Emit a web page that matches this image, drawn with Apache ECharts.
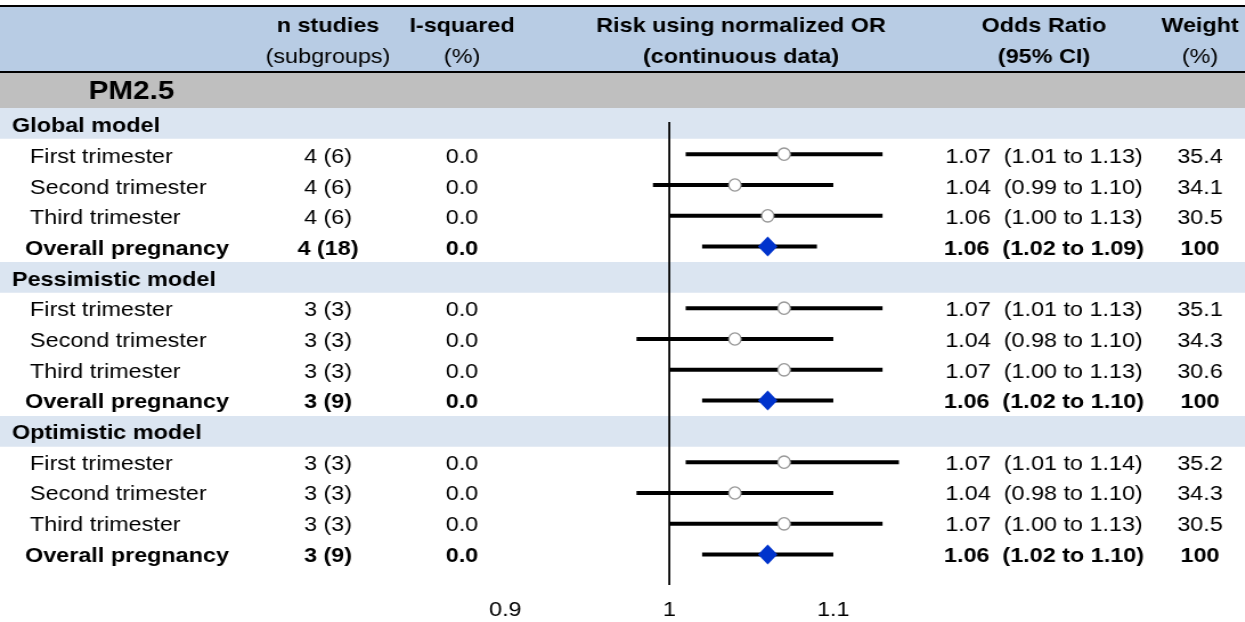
<!DOCTYPE html>
<html><head><meta charset="utf-8">
<script src="https://cdn.jsdelivr.net/npm/echarts@6/dist/echarts.min.js"></script>
<style>
html,body{margin:0;padding:0;overflow:hidden;background:#fff}
#c{height:622px;transform-origin:0 0}
</style>
</head><body><div id="c"></div>
<script>
// ---------- data ----------
const rowLabels = ['Global model','First trimester','Second trimester','Third trimester','Overall pregnancy',
  'Pessimistic model','First trimester','Second trimester','Third trimester','Overall pregnancy',
  'Optimistic model','First trimester','Second trimester','Third trimester','Overall pregnancy'];
const rowKinds = ['section','sub','sub','sub','overall','section','sub','sub','sub','overall','section','sub','sub','sub','overall'];
const nStudies = ['','4 (6)','4 (6)','4 (6)','4 (18)','','3 (3)','3 (3)','3 (3)','3 (9)','','3 (3)','3 (3)','3 (3)','3 (9)'];
const iSquared = ['','0.0','0.0','0.0','0.0','','0.0','0.0','0.0','0.0','','0.0','0.0','0.0','0.0'];
const oddsRatio = [null,1.07,1.04,1.06,1.06,null,1.07,1.04,1.07,1.06,null,1.07,1.04,1.07,1.06];
const ciLower   = [null,1.01,0.99,1.00,1.02,null,1.01,0.98,1.00,1.02,null,1.01,0.98,1.00,1.02];
const ciUpper   = [null,1.13,1.10,1.13,1.09,null,1.13,1.10,1.13,1.10,null,1.14,1.10,1.13,1.10];
const weights = ['','35.4','34.1','30.5','100','','35.1','34.3','30.6','100','','35.2','34.3','30.5','100'];
const tickLabels = ['0.9','1','1.1'];
const headerLine1 = ['n studies','I-squared','Risk using normalized OR','Odds Ratio','Weight'];
const headerLine2 = ['(subgroups)','(%)','(continuous data)','(95% CI)','(%)'];
const groupTitle = 'PM2.5';
const nullEffect = 1;

// ---------- layout ----------
const S = 1.14;                 // page text is horizontally stretched, as in the reference
const X = v => v / S;
const W = 1245 / S;
const FS = 20.5;
const FONT = '"Liberation Sans", Arial, Helvetica, sans-serif';
const rowKeys = rowLabels.map((l, i) => 'r' + i);
const headerCenters = [328, 462, 741, 1044, 1200];

const el = document.getElementById('c');
el.style.width = W + 'px';
el.style.transform = 'scaleX(' + S + ')';

const bandGrid = { left: 0, right: 0, top: 108, bottom: 52 };
const forestLeft = X(669.3) - 0.1 * X(1640);
const forestWidth = 0.25 * X(1640);
const textTop = 111.5, textBottom = 50.7;

const grids = [
  bandGrid,
  { left: forestLeft, width: forestWidth, top: 108, bottom: 52 },
  { left: forestLeft, width: forestWidth, top: 122, bottom: 37 },
  { left: X(12), width: 1, top: textTop, bottom: textBottom },
  { left: X(328), width: 1, top: textTop, bottom: textBottom },
  { left: X(462), width: 1, top: textTop, bottom: textBottom },
  { left: X(1044), width: 1, top: textTop, bottom: textBottom },
  { left: X(1200), width: 1, top: textTop, bottom: textBottom }
];

const baseFont = { fontFamily: FONT, fontSize: FS, color: '#000' };
const rich = {
  n: Object.assign({}, baseFont),
  b: Object.assign({ fontWeight: 'bold' }, baseFont),
  h: Object.assign({ fontWeight: 'bold' }, baseFont),
  s: Object.assign({ padding: [0, 0, 0, X(18)] }, baseFont),
  o: Object.assign({ fontWeight: 'bold', padding: [0, 0, 0, X(13)] }, baseFont)
};

function textColumn(gridIndex, values, align, styler) {
  return {
    type: 'category', gridIndex, inverse: true, data: rowKeys, z: 10,
    axisLine: { show: false }, axisTick: { show: false }, splitLine: { show: false },
    axisLabel: {
      show: true, interval: 0, margin: 0, align, verticalAlign: 'middle',
      fontFamily: FONT, fontSize: FS, color: '#000', rich,
      formatter: (v, i) => values[i] === '' ? '' : '{' + styler(i) + '|' + values[i] + '}'
    }
  };
}
const boldIfOverall = i => rowKinds[i] === 'overall' ? 'b' : 'n';

const orText = oddsRatio.map((v, i) => v == null ? '' :
  v.toFixed(2) + '  (' + ciLower[i].toFixed(2) + ' to ' + ciUpper[i].toFixed(2) + ')');

const hiddenX = gi => ({ type: 'value', gridIndex: gi, min: 0, max: 1, show: false });

const xAxis = [
  hiddenX(0),
  { type: 'value', gridIndex: 1, min: 0.9, max: 1.15, show: false },
  { type: 'value', gridIndex: 2, min: 0.9, max: 1.15, interval: 0.1,
    axisLine: { show: false }, axisTick: { show: false }, splitLine: { show: false },
    axisLabel: { margin: 15, fontFamily: FONT, fontSize: FS, color: '#000', showMaxLabel: false,
      formatter: (v) => { const k = Math.round((v - 0.9) / 0.1); return tickLabels[k] || ''; } } },
  hiddenX(3), hiddenX(4), hiddenX(5), hiddenX(6), hiddenX(7)
];

const yAxis = [
  { type: 'category', gridIndex: 0, inverse: true, data: rowKeys, show: false },
  { type: 'category', gridIndex: 1, inverse: true, data: rowKeys, show: false },
  { type: 'value', gridIndex: 2, min: 0, max: 1, show: false },
  textColumn(3, rowLabels, 'left', i => rowKinds[i] === 'section' ? 'h' : (rowKinds[i] === 'overall' ? 'o' : 's')),
  textColumn(4, nStudies, 'center', boldIfOverall),
  textColumn(5, iSquared, 'center', boldIfOverall),
  textColumn(6, orText, 'center', boldIfOverall),
  textColumn(7, weights, 'center', boldIfOverall)
];

const ciData = [], subData = [], overallData = [];
oddsRatio.forEach((v, i) => {
  if (v == null) return;
  ciData.push([i, ciLower[i], ciUpper[i]]);
  if (rowKinds[i] === 'overall') overallData.push([v, i]); else subData.push([v, i]);
});

const series = [
  { type: 'bar', xAxisIndex: 0, yAxisIndex: 0, z: 1, silent: true, barWidth: '100%',
    itemStyle: { color: '#dbe5f1' }, animation: false,
    data: rowKinds.map(k => k === 'section' ? 1 : '-') },
  { type: 'line', xAxisIndex: 2, yAxisIndex: 2, z: 3, symbol: 'none', silent: true, animation: false,
    lineStyle: { color: '#000', width: X(2) }, data: [[nullEffect, 0], [nullEffect, 1]] },
  { type: 'custom', xAxisIndex: 1, yAxisIndex: 1, z: 4, silent: true, animation: false,
    encode: { x: [1, 2], y: 0 }, data: ciData,
    renderItem: (params, api) => {
      const y = api.value(0);
      const p1 = api.coord([api.value(1), y]);
      const p2 = api.coord([api.value(2), y]);
      return { type: 'line', shape: { x1: p1[0], y1: p1[1], x2: p2[0], y2: p2[1] },
        style: { stroke: '#000', lineWidth: 4 } };
    } },
  { type: 'scatter', xAxisIndex: 1, yAxisIndex: 1, z: 5, silent: true, animation: false,
    symbol: 'circle', symbolSize: [X(12.3), 12.3],
    itemStyle: { color: '#fff', borderColor: '#999999', borderWidth: 1.3, opacity: 1 },
    data: subData },
  { type: 'scatter', xAxisIndex: 1, yAxisIndex: 1, z: 5, silent: true, animation: false,
    symbol: 'diamond', symbolSize: [X(19.5), 20],
    itemStyle: { color: '#0033cc', opacity: 1 }, data: overallData }
];

const graphic = [
  { type: 'rect', z: 0, shape: { x: 0, y: 5, width: W, height: 2 }, style: { fill: '#000' } },
  { type: 'rect', z: 0, shape: { x: 0, y: 7, width: W, height: 64 }, style: { fill: '#b8cce4' } },
  { type: 'rect', z: 0, shape: { x: 0, y: 71, width: W, height: 2 }, style: { fill: '#000' } },
  { type: 'rect', z: 0, shape: { x: 0, y: 73, width: W, height: 35 }, style: { fill: '#bfbfbf' } },
  { type: 'text', z: 10, x: X(131.5), y: 91.5,
    style: { text: groupTitle, fill: '#000', font: 'bold 26px ' + FONT, align: 'center', verticalAlign: 'middle' } }
];
headerCenters.forEach((cx, k) => {
  graphic.push({ type: 'text', z: 10, x: X(cx), y: 26,
    style: { text: headerLine1[k], fill: '#000', font: 'bold ' + FS + 'px ' + FONT, align: 'center', verticalAlign: 'middle' } });
  graphic.push({ type: 'text', z: 10, x: X(cx), y: 57.5,
    style: { text: headerLine2[k], fill: '#000', font: (k >= 2 && k <= 3 ? 'bold ' : '') + FS + 'px ' + FONT, align: 'center', verticalAlign: 'middle' } });
});

const chart = echarts.init(el, null, { renderer: 'canvas' });
chart.setOption({
  animation: false,
  backgroundColor: '#fff',
  grid: grids,
  xAxis, yAxis, series, graphic
});
</script>
</body></html>
